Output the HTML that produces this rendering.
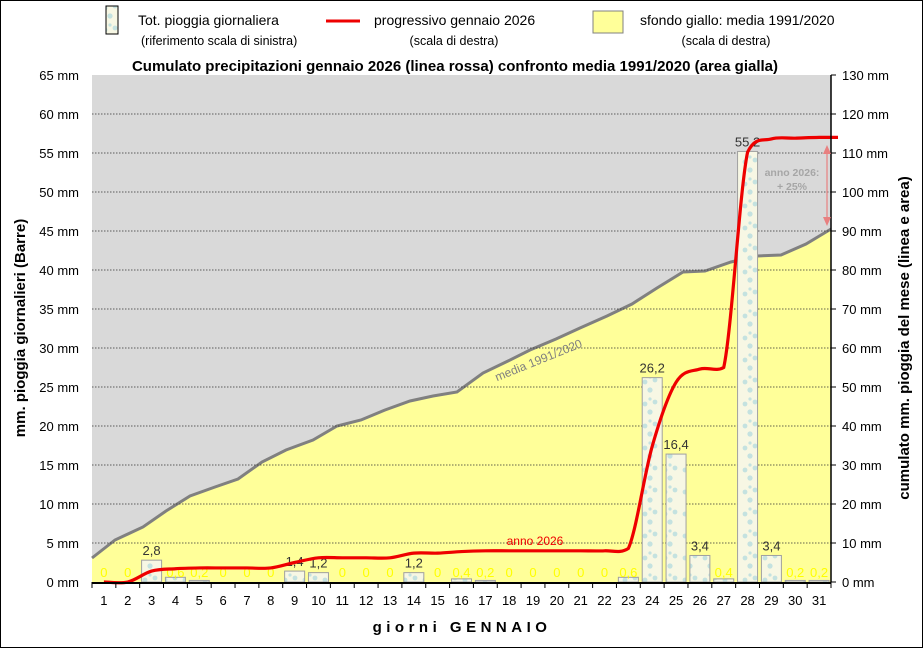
<!DOCTYPE html>
<html><head><meta charset="utf-8"><style>
html,body{margin:0;padding:0;background:#fff}
svg{display:block;font-family:"Liberation Sans",Arial,sans-serif}
</style></head><body>
<svg id="s" width="923" height="648" viewBox="0 0 923 648" xmlns="http://www.w3.org/2000/svg">
<defs>
<pattern id="drops" width="20" height="22" patternUnits="userSpaceOnUse">
<rect width="20" height="22" fill="#f7f7e4"/>
<circle cx="5" cy="8" r="2.4" fill="#c4e2e0"/><circle cx="15" cy="6" r="2.4" fill="#c4e2e0"/><circle cx="10" cy="16" r="2.6" fill="#c4e2e0"/><circle cx="10" cy="3" r="1.6" fill="#c4e2e0"/>
</pattern>
</defs>
<rect x="0.5" y="0.5" width="922" height="647" fill="#fff" stroke="#000"/>
<g id="g"></g>
</svg>
<script>
const NS="http://www.w3.org/2000/svg",g=document.getElementById('g');
function el(t,a,txt){const e=document.createElementNS(NS,t);for(const k in a)e.setAttribute(k,a[k]);if(txt!==undefined)e.textContent=txt;g.appendChild(e);return e;}
const L=92,R=831,T=75,B=582,dw=(R-L)/31;
const yl=v=>B-v*(B-T)/65, yr=v=>B-v*(B-T)/130, xc=d=>L+(d-0.5)*dw;
el('rect',{x:L,y:T,width:R-L,height:B-T,fill:'#d9d9d9'});
const media=[[92,558],[115,540],[143,527],[166,511],[190,496],[215,487],[238,479],[262,462],[286,450],[313,440],[337,426],[361,420],[385,410],[410,401],[433,396],[457,392],[483,373],[508,361],[530,350],[556,339],[580,328],[607,316],[632,304],[657,288],[683,272],[705,271],[731,262],[757,256],[781,255],[806,244],[831,229]];
el('path',{d:'M'+L+','+B+' L'+media.map(p=>p.join(',')).join(' L')+' L'+R+','+B+' Z',fill:'#ffff99'});
el('polyline',{points:media.map(p=>p.join(',')).join(' '),fill:'none',stroke:'#808080','stroke-width':3});
for(let v=5;v<=60;v+=5)el('line',{x1:L,x2:R,y1:yl(v),y2:yl(v),stroke:'#333','stroke-width':0.8,'stroke-dasharray':'1.5,1.5'});
const d=[0,0,2.8,0.6,0.2,0,0,0,1.4,1.2,0,0,0,1.2,0,0.4,0.2,0,0,0,0,0,0.6,26.2,16.4,3.4,0.4,55.2,3.4,0.2,0.2];
d.forEach((v,i)=>{if(v>0){const x=xc(i+1);el('rect',{x:x-10,y:yl(v),width:20,height:B-yl(v),fill:'url(#drops)',stroke:'#a0a0a0','stroke-width':1});}});
d.forEach((v,i)=>{const x=xc(i+1);const s=String(v).replace('.',',');
 if(v>=1)el('text',{x:x,y:yl(v)-5,'text-anchor':'middle','font-size':13,fill:'#333'},s);
 else el('text',{x:x,y:577,'text-anchor':'middle','font-size':13,fill:'#ffff00'},s);});
let c=0;const pts=d.map((v,i)=>{c+=v;return [xc(i+1),yr(c)];});
pts.push([R+7,yr(114)]);
let p='M'+pts[0].join(',');
const cl=(y,a,b)=>Math.max(Math.min(a,b)-3,Math.min(Math.max(a,b)+3,y));
for(let i=0;i<pts.length-1;i++){const p0=pts[Math.max(0,i-1)],p1=pts[i],p2=pts[i+1],p3=pts[Math.min(pts.length-1,i+2)];
 const c1=[p1[0]+(p2[0]-p0[0])/6,cl(p1[1]+(p2[1]-p0[1])/6,p1[1],p2[1])],c2=[p2[0]-(p3[0]-p1[0])/6,cl(p2[1]-(p3[1]-p1[1])/6,p1[1],p2[1])];
 p+=' C'+c1.join(',')+' '+c2.join(',')+' '+p2.join(',');}
el('path',{d:p,fill:'none',stroke:'#ee0000','stroke-width':3.2});
el('line',{x1:L,x2:R,y1:B+1,y2:B+1,stroke:'#000','stroke-width':2});
el('line',{x1:R,x2:R,y1:T,y2:B,stroke:'#000','stroke-width':1.5});
for(let i=0;i<=31;i++)el('line',{x1:L+i*dw,x2:L+i*dw,y1:B,y2:B+6,stroke:'#000'});
for(let i=1;i<=31;i++)el('text',{x:xc(i),y:605,'text-anchor':'middle','font-size':13},i);
for(let v=0;v<=65;v+=5)el('text',{x:79,y:yl(v)+5,'text-anchor':'end','font-size':13},v+' mm');
for(let v=0;v<=130;v+=10){el('line',{x1:R,x2:R+5,y1:yr(v),y2:yr(v),stroke:'#000'});el('text',{x:842,y:yr(v)+5,'font-size':13},v+' mm');}
el('text',{x:540,y:364,'font-size':12,fill:'#808080',transform:'rotate(-22 540 364)','text-anchor':'middle'},'media 1991/2020');
el('text',{x:535,y:545,'font-size':12,fill:'#ee0000','text-anchor':'middle'},'anno 2026');
el('text',{x:792,y:176,'font-size':10.5,fill:'#a6a6a6','font-weight':'bold','text-anchor':'middle'},'anno 2026:');
el('text',{x:792,y:190,'font-size':10.5,fill:'#a6a6a6','font-weight':'bold','text-anchor':'middle'},'+ 25%');
el('line',{x1:827,x2:827,y1:147,y2:224,stroke:'#e88080','stroke-width':1.2});
el('path',{d:'M823,154 L827,145 L831,154 Z M823,217 L827,226 L831,217 Z',fill:'#e88080'});
el('text',{x:455,y:71,'text-anchor':'middle','font-size':15,'font-weight':'bold'},'Cumulato precipitazioni gennaio 2026 (linea rossa) confronto media 1991/2020 (area gialla)');
el('text',{x:462,y:632,'text-anchor':'middle','font-size':15,'font-weight':'bold','letter-spacing':'4.5'},'giorni  GENNAIO');
el('text',{x:25,y:328,'text-anchor':'middle','font-size':15,'font-weight':'bold',transform:'rotate(-90 25 328)'},'mm. pioggia giornalieri (Barre)');
el('text',{x:909,y:338,'text-anchor':'middle','font-size':15,'font-weight':'bold',transform:'rotate(-90 909 338)'},'cumulato mm. pioggia del mese (linea e area)');
el('rect',{x:106,y:6,width:12,height:28,fill:'url(#drops)',stroke:'#000'});
el('text',{x:138,y:25,'font-size':14},'Tot. pioggia giornaliera');
el('text',{x:141,y:45,'font-size':12.5},'(riferimento scala di sinistra)');
el('line',{x1:326,x2:360,y1:21,y2:21,stroke:'#ee0000','stroke-width':3});
el('text',{x:374,y:25,'font-size':14},'progressivo gennaio 2026');
el('text',{x:454,y:45,'font-size':12.5,'text-anchor':'middle'},'(scala di destra)');
el('rect',{x:593,y:11,width:30,height:22,fill:'#ffff99',stroke:'#808080'});
el('text',{x:640,y:25,'font-size':14},'sfondo giallo: media 1991/2020');
el('text',{x:726,y:45,'font-size':12.5,'text-anchor':'middle'},'(scala di destra)');
</script>
</body></html>
